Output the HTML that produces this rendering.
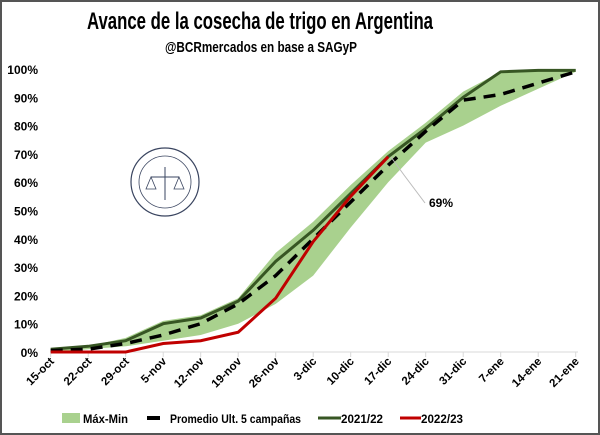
<!DOCTYPE html>
<html><head><meta charset="utf-8"><style>
html,body{margin:0;padding:0;background:#fff}
svg{display:block}
text{font-family:"Liberation Sans",sans-serif}
</style></head><body>
<svg id="s" width="600" height="435" viewBox="0 0 600 435" xmlns="http://www.w3.org/2000/svg">
<rect x="1" y="1" width="598" height="433" fill="#fff" stroke="#555" stroke-width="2"/>
<text x="260" y="29" text-anchor="middle" font-family="Liberation Sans Narrow, Liberation Sans, sans-serif" font-weight="bold" font-size="24" textLength="346" lengthAdjust="spacingAndGlyphs">Avance de la cosecha de trigo en Argentina</text>
<text x="261" y="52" text-anchor="middle" font-family="Liberation Sans Narrow, Liberation Sans, sans-serif" font-weight="bold" font-size="15" textLength="192" lengthAdjust="spacingAndGlyphs">@BCRmercados en base a SAGyP</text>
<g id="g"></g>
<g transform="translate(165,182)" fill="none" stroke="#3a4560">
<circle r="34" stroke-width="1.2"/><circle r="26" stroke-width="0.8"/>
<line x1="-14" y1="-5" x2="14" y2="-5"/><line x1="0" y1="-15" x2="0" y2="18"/>
<path d="M-14 -5 l-5 12 h10 z M14 -5 l-5 12 h10 z" stroke-width="0.8"/>
</g>
<g font-size="12" font-weight="bold" fill="#000">
<rect x="62" y="413" width="18" height="10" fill="#a9d18e"/>
<text x="83" y="423" textLength="45" lengthAdjust="spacingAndGlyphs">Máx-Min</text>
<line x1="147" y1="418" x2="160" y2="418" stroke="#000" stroke-width="4"/>
<text x="170" y="423" textLength="131" lengthAdjust="spacingAndGlyphs">Promedio Ult. 5 campañas</text>
<line x1="318" y1="418" x2="341" y2="418" stroke="#375623" stroke-width="3"/>
<text x="341" y="423" textLength="42" lengthAdjust="spacingAndGlyphs">2021/22</text>
<line x1="400" y1="418" x2="421" y2="418" stroke="#c00000" stroke-width="3"/>
<text x="421" y="423" textLength="42" lengthAdjust="spacingAndGlyphs">2022/23</text>
</g>
</svg>
<script>
var X=i=>50.7+37.5*i, Y=v=>352-2.83*v;
var mx=[1,2,5,11,13,19,35,46,59,71,81,92,99,99.5,100];
var mn=[0,1,2,4,6,10,17,27,44,60,74,80,87,93,99];
var av=[0.5,1,3,6,10,17,27,40,53,66,78,89,91,95,99];
var g21=[1,2,4,10,12,18,32,43,56,69,79,90,99,99.5,99.5];
var rd=[0,0,0,3,4,7,19,39,55,69];
var lb=["15-oct","22-oct","29-oct","5-nov","12-nov","19-nov","26-nov","3-dic","10-dic","17-dic","24-dic","31-dic","7-ene","14-ene","21-ene"];
function pts(a){return a.map((v,i)=>X(i).toFixed(1)+","+Y(v).toFixed(1)).join(" ")}
var h='';
for(var k=0;k<=10;k++){h+='<text x="38" y="'+(Y(k*10)+5)+'" text-anchor="end" font-size="12" font-weight="bold">'+(k*10)+'%</text>';}
h+='<line x1="50" y1="352" x2="578" y2="352" stroke="#d9d9d9"/>';
for(var i=0;i<15;i++){h+='<line x1="'+X(i)+'" y1="352" x2="'+X(i)+'" y2="357" stroke="#d9d9d9"/>';
h+='<text transform="translate('+(X(i)+4)+',362) rotate(-45)" text-anchor="end" font-size="11.5" font-weight="bold">'+lb[i]+'</text>';}
var band=pts(mx)+" "+mn.map((v,i)=>[X(i),Y(v)]).reverse().map(p=>p[0].toFixed(1)+","+p[1].toFixed(1)).join(" ");
h+='<polygon points="'+band+'" fill="#a9d18e"/>';
h+='<polyline points="'+pts(g21)+'" fill="none" stroke="#375623" stroke-width="3"/>';
h+='<polyline points="'+pts(av)+'" fill="none" stroke="#000" stroke-width="3.5" stroke-dasharray="12,8"/>';
h+='<polyline points="'+pts(rd)+'" fill="none" stroke="#c00000" stroke-width="3"/>';
h+='<polyline points="391,157 404,175 425,203" fill="none" stroke="#bbb" stroke-width="1"/>';
h+='<text x="429" y="207" font-size="12" font-weight="bold">69%</text>';
document.getElementById('g').innerHTML=h;
</script>
</body></html>
